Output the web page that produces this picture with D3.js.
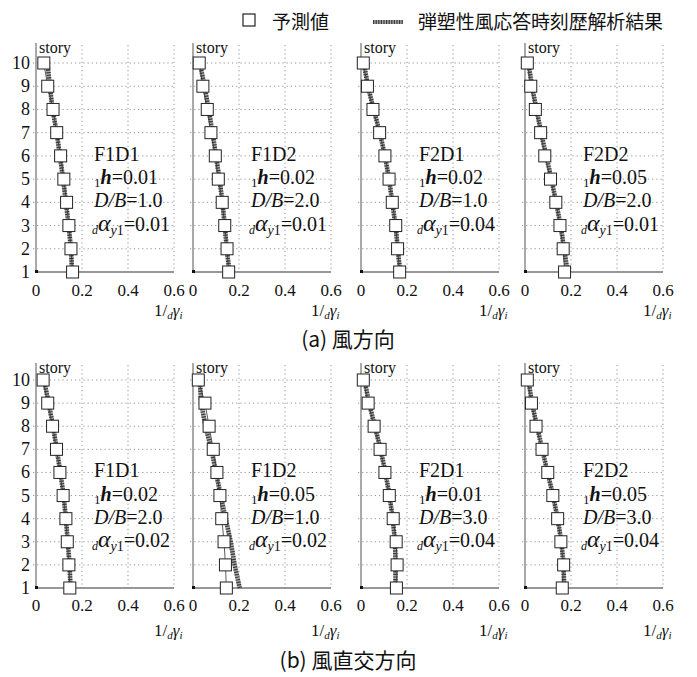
<!DOCTYPE html>
<html><head><meta charset="utf-8">
<script src="https://cdn.jsdelivr.net/npm/d3@7"></script>
<style>body{margin:0;background:#fff}svg{display:block}</style>
</head><body><svg id="c" width="697" height="677"></svg>
<script>
const stories = [1,2,3,4,5,6,7,8,9,10];
const xTicks = [0, 0.2, 0.4, 0.6];
const xTickLabels = ["0","0.2","0.4","0.6"];
const panelNames = ["F1D1","F1D2","F2D1","F2D2","F1D1","F1D2","F2D1","F2D2"];
const hVals  = ["0.01","0.02","0.02","0.05","0.02","0.05","0.01","0.05"];
const dbVals = ["1.0","2.0","1.0","2.0","2.0","1.0","3.0","3.0"];
const aVals  = ["0.01","0.01","0.04","0.01","0.02","0.02","0.04","0.04"];
const rowTitles = ["(a) 風方向", "(b) 風直交方向"];
const legendLabels = ["予測値", "弾塑性風応答時刻歴解析結果"];
// predicted values (squares), story 1..10
const predicted = [
  [0.159,0.152,0.143,0.133,0.121,0.107,0.090,0.074,0.051,0.034],
  [0.155,0.148,0.138,0.127,0.110,0.097,0.078,0.062,0.043,0.027],
  [0.168,0.159,0.151,0.136,0.122,0.104,0.081,0.052,0.028,0.010],
  [0.172,0.166,0.152,0.134,0.111,0.086,0.068,0.045,0.025,0.010],
  [0.147,0.143,0.136,0.130,0.118,0.104,0.089,0.072,0.051,0.031],
  [0.145,0.141,0.135,0.125,0.117,0.104,0.088,0.070,0.052,0.023],
  [0.154,0.157,0.153,0.140,0.123,0.104,0.083,0.057,0.031,0.010],
  [0.162,0.168,0.156,0.142,0.121,0.099,0.074,0.048,0.028,0.010]
];
// elasto-plastic time-history analysis results (hatched line), story 1..10
const analysis = [
  [0.157,0.152,0.142,0.130,0.118,0.104,0.090,0.072,0.060,0.050],
  [0.158,0.147,0.138,0.128,0.115,0.100,0.085,0.068,0.050,0.030],
  [0.170,0.160,0.150,0.136,0.122,0.104,0.082,0.055,0.030,0.012],
  [0.185,0.170,0.155,0.135,0.115,0.092,0.070,0.050,0.030,0.015],
  [0.150,0.146,0.138,0.130,0.120,0.106,0.090,0.074,0.055,0.035],
  [0.203,0.181,0.164,0.142,0.120,0.100,0.080,0.054,0.036,0.029],
  [0.150,0.150,0.148,0.138,0.124,0.106,0.085,0.060,0.035,0.015],
  [0.170,0.168,0.158,0.142,0.122,0.098,0.075,0.052,0.030,0.015]
];

const svg = d3.select("#c");
const serif = "Liberation Serif, Times New Roman, DejaVu Serif, serif";
const cjk = "Noto Sans CJK JP, Noto Sans CJK SC, sans-serif";
const lefts = [36,193,361,525];
const W = 138;
const rows = [{top:63, bottom:272, axTop:43, tickY:296, titleY:316, capY:347},
              {top:380, bottom:588, axTop:363, tickY:611, titleY:636, capY:668}];

for (let p=0; p<8; p++){
  const r = rows[Math.floor(p/4)];
  const x0 = lefts[p%4];
  const x = d3.scaleLinear().domain([0,0.6]).range([x0, x0+W]);
  const y = d3.scaleLinear().domain([1,10]).range([r.bottom, r.top]);
  const g = svg.append("g");
  // grid
  g.selectAll(".hg").data(stories.slice(1)).join("line")
    .attr("x1", x0-3).attr("x2", x(0.6)).attr("y1", d=>y(d)).attr("y2", d=>y(d))
    .attr("stroke","#777").attr("stroke-width",0.8).attr("stroke-dasharray","1.2,3");
  g.selectAll(".vg").data(xTicks.slice(1)).join("line")
    .attr("x1", d=>x(d)).attr("x2", d=>x(d)).attr("y1", r.axTop+2).attr("y2", r.bottom)
    .attr("stroke","#777").attr("stroke-width",0.8).attr("stroke-dasharray","1.2,3");
  // axes
  g.append("line").attr("x1",x0).attr("x2",x0).attr("y1",r.axTop).attr("y2",r.bottom)
    .attr("stroke","#555").attr("stroke-width",1);
  g.append("line").attr("x1",x0).attr("x2",x(0.6)).attr("y1",r.bottom).attr("y2",r.bottom)
    .attr("stroke","#333").attr("stroke-width",1.2);
  g.append("rect").attr("x",x0-1).attr("y",r.bottom-2).attr("width",3).attr("height",3).attr("fill","#111");
  // x tick labels
  g.selectAll(".xt").data(xTicks).join("text")
    .attr("x", d=>x(d)).attr("y", r.tickY).attr("text-anchor","middle")
    .attr("font-family",serif).attr("font-size",17).attr("fill","#111")
    .text((d,i)=>xTickLabels[i]);
  // x title 1/dγi
  const xt = g.append("text").attr("x", x(0.6)-20).attr("y", r.titleY)
    .attr("font-family",serif).attr("font-size",17).attr("fill","#111");
  xt.append("tspan").text("1/");
  xt.append("tspan").attr("font-style","italic").attr("font-size",11).attr("dy",3).text("d");
  xt.append("tspan").attr("font-style","italic").attr("font-size",17).attr("dy",-3).text("γ");
  xt.append("tspan").attr("font-style","italic").attr("font-size",11).attr("dy",3).text("i");
  // story label
  g.append("text").attr("x",x0+3).attr("y",r.axTop+10).attr("font-family",serif)
    .attr("font-size",16).attr("fill","#111").text("story");
  // y tick labels (first column only)
  if (p%4===0){
    g.selectAll(".yt").data(stories).join("text")
      .attr("x", 30).attr("y", d=>y(d)+6).attr("text-anchor","end")
      .attr("font-family",serif).attr("font-size",18).attr("fill","#111").text(d=>d);
  }
  // analysis line (hatched)
  const ptsA = stories.map((s,i)=>[x(analysis[p][i]), y(s)]);
  const line = d3.line();
  g.append("path").attr("d", line(ptsA)).attr("fill","none")
    .attr("stroke","#a8a8a8").attr("stroke-width",4.5);
  g.append("path").attr("d", line(ptsA)).attr("fill","none")
    .attr("stroke","#3a3a3a").attr("stroke-width",4.5).attr("stroke-dasharray","1.2,1.4");
  // predicted thin line + squares
  const ptsP = stories.map((s,i)=>[x(predicted[p][i]), y(s)]);
  g.append("path").attr("d", line(ptsP)).attr("fill","none")
    .attr("stroke","#333").attr("stroke-width",0.8);
  g.selectAll(".sq").data(stories).join("rect")
    .attr("x",(d,i)=>x(predicted[p][i])-6).attr("y", d=>y(d)-6)
    .attr("width",12).attr("height",12).attr("fill","#fff").attr("stroke","#222").attr("stroke-width",1);
  // annotation
  const tx = x0 + 58;
  g.append("text").attr("x",tx).attr("y",y(6)+5).attr("font-family",serif)
    .attr("font-size",20).attr("fill","#111").text(panelNames[p]);
  const t2 = g.append("text").attr("x",tx).attr("y",y(5)+5).attr("font-family",serif)
    .attr("font-size",20).attr("fill","#111");
  t2.append("tspan").attr("font-size",13).attr("dy",3).text("1");
  t2.append("tspan").attr("font-style","italic").attr("font-weight","bold").attr("dy",-3).text("h");
  t2.append("tspan").text("=" + hVals[p]);
  const t3 = g.append("text").attr("x",tx).attr("y",y(4)+5).attr("font-family",serif)
    .attr("font-size",20).attr("fill","#111");
  t3.append("tspan").attr("font-style","italic").text("D/B");
  t3.append("tspan").text("=" + dbVals[p]);
  const t4 = g.append("text").attr("x",tx-2).attr("y",y(3)+5).attr("font-family",serif)
    .attr("font-size",20).attr("fill","#111");
  t4.append("tspan").attr("font-style","italic").attr("font-size",12).attr("dy",3).text("d");
  t4.append("tspan").attr("font-style","italic").attr("font-size",24).attr("dy",-3).text("α");
  t4.append("tspan").attr("font-style","italic").attr("font-size",14).attr("dy",4).text("y");
  t4.append("tspan").attr("font-size",14).text("1");
  t4.append("tspan").attr("dy",-4).text("=" + aVals[p]);
}

// row titles
rows.forEach((r,i)=>{
  svg.append("text").attr("x",348).attr("y",r.capY).attr("text-anchor","middle")
    .attr("font-family",cjk).attr("font-size",21).attr("fill","#111").text(rowTitles[i]);
});

// legend
const lg = svg.append("g");
lg.append("rect").attr("x",243).attr("y",14).attr("width",12).attr("height",12)
  .attr("fill","#fff").attr("stroke","#222").attr("stroke-width",1.2);
lg.append("text").attr("x",272).attr("y",29).attr("font-family",cjk).attr("font-size",19)
  .attr("fill","#111").text(legendLabels[0]);
lg.append("line").attr("x1",373).attr("x2",403).attr("y1",22).attr("y2",22)
  .attr("stroke","#a8a8a8").attr("stroke-width",4);
lg.append("line").attr("x1",373).attr("x2",403).attr("y1",22).attr("y2",22)
  .attr("stroke","#3a3a3a").attr("stroke-width",4).attr("stroke-dasharray","1.2,1.4");
lg.append("text").attr("x",418).attr("y",29).attr("font-family",cjk).attr("font-size",19)
  .attr("textLength",245).attr("fill","#111").text(legendLabels[1]);
</script></body></html>
